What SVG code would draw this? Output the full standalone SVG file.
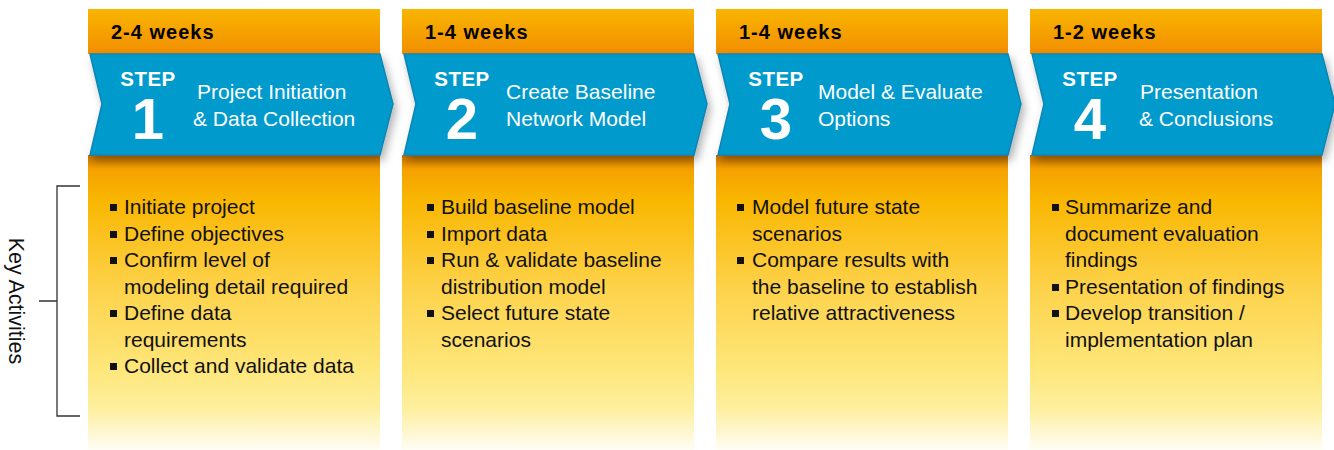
<svg xmlns="http://www.w3.org/2000/svg" width="1334" height="450" viewBox="0 0 1334 450">
  <defs>
    <linearGradient id="hdrGrad" x1="0" y1="0" x2="0" y2="1">
      <stop offset="0" stop-color="#f9b500"/>
      <stop offset="1" stop-color="#f28e00"/>
    </linearGradient>
    <linearGradient id="bodyGrad" x1="0" y1="155" x2="0" y2="450" gradientUnits="userSpaceOnUse">
      <stop offset="0" stop-color="#f39700"/>
      <stop offset="0.15" stop-color="#f9b600"/>
      <stop offset="0.45" stop-color="#fdd24a"/>
      <stop offset="0.72" stop-color="#fee679"/>
      <stop offset="0.86" stop-color="#feef9e"/>
      <stop offset="1" stop-color="#fffdf5"/>
    </linearGradient>
    <linearGradient id="bodyShade" x1="0" y1="0" x2="0" y2="1">
      <stop offset="0" stop-color="#9a5200" stop-opacity="0.55"/>
      <stop offset="1" stop-color="#9a5200" stop-opacity="0"/>
    </linearGradient>
    <filter id="chevShadow" x="-10%" y="-20%" width="125%" height="160%">
      <feDropShadow dx="3" dy="5" stdDeviation="4" flood-color="#000" flood-opacity="0.3"/>
    </filter>
    <!-- one step column, drawn at x=0 and moved into place -->
    <g id="column">
      <rect x="0" y="9" width="292" height="45" fill="url(#hdrGrad)"/>
      <rect x="0" y="155" width="292" height="295" fill="url(#bodyGrad)"/>
      <rect x="0" y="155" width="292" height="14" fill="url(#bodyShade)"/>
      <path d="M2 54 H292 L305 104 L292 155 H2 L14 104 Z" class="chev" filter="url(#chevShadow)"/>
    </g>
  </defs>
  <style>
    .chev { fill: #039acd; stroke: #0b85b4; stroke-width: 1.5; stroke-linejoin: miter; }
    .weeks { font-family: "Liberation Sans", Arial, sans-serif; font-weight: bold; font-size: 20px; letter-spacing: 1px; fill: #000; }
    .step { font-family: "Liberation Sans", Arial, sans-serif; font-weight: bold; font-size: 20.5px; letter-spacing: 0.5px; fill: #fff; text-anchor: middle; }
    .num { font-family: "Liberation Sans", Arial, sans-serif; font-weight: bold; font-size: 58px; fill: #fff; text-anchor: middle; }
    .title { font-family: "Liberation Sans", Arial, sans-serif; font-size: 21px; fill: #fff; }
    .item { font-family: "Liberation Sans", Arial, sans-serif; font-size: 21px; fill: #111; }
    .bullet { fill: #111; }
    .label { font-family: "Liberation Sans", Arial, sans-serif; font-size: 21.5px; fill: #111; text-anchor: middle; }
    .bracket { fill: none; stroke: #333; stroke-width: 1.3; }
  </style>

  <rect width="1334" height="450" fill="#fff"/>

  <!-- side label and bracket -->
  <g id="key-activities">
    <text class="label" transform="translate(9 301) rotate(90)">Key Activities</text>
    <path class="bracket" d="M80 186 H57 V416 H80 M57 301 H39"/>
  </g>

  <!-- step 1 -->
  <g id="step1">
    <use href="#column" x="88"/>
    <text class="weeks" x="111" y="39">2-4 weeks</text>
    <text class="step" x="148" y="86">STEP</text>
    <text class="num" x="148" y="139">1</text>
    <text class="title" x="197" y="99">Project Initiation</text>
    <text class="title" x="193" y="126">&amp; Data Collection</text>
    <g class="bullets">
      <rect class="bullet" x="110" y="204" width="7" height="7"/>
      <rect class="bullet" x="110" y="231" width="7" height="7"/>
      <rect class="bullet" x="110" y="257" width="7" height="7"/>
      <rect class="bullet" x="110" y="310" width="7" height="7"/>
      <rect class="bullet" x="110" y="363" width="7" height="7"/>
    </g>
    <text class="item" x="124" y="214">Initiate project</text>
    <text class="item" x="124" y="240.5">Define objectives</text>
    <text class="item" x="124" y="267">Confirm level of</text>
    <text class="item" x="124" y="293.5">modeling detail required</text>
    <text class="item" x="124" y="320">Define data</text>
    <text class="item" x="124" y="346.5">requirements</text>
    <text class="item" x="124" y="373">Collect and validate data</text>
  </g>

  <!-- step 2 -->
  <g id="step2">
    <use href="#column" x="402"/>
    <text class="weeks" x="425" y="39">1-4 weeks</text>
    <text class="step" x="462" y="86">STEP</text>
    <text class="num" x="462" y="139">2</text>
    <text class="title" x="506" y="99">Create Baseline</text>
    <text class="title" x="506" y="126">Network Model</text>
    <g class="bullets">
      <rect class="bullet" x="427" y="204" width="7" height="7"/>
      <rect class="bullet" x="427" y="231" width="7" height="7"/>
      <rect class="bullet" x="427" y="257" width="7" height="7"/>
      <rect class="bullet" x="427" y="310" width="7" height="7"/>
    </g>
    <text class="item" x="441" y="214">Build baseline model</text>
    <text class="item" x="441" y="240.5">Import data</text>
    <text class="item" x="441" y="267">Run &amp; validate baseline</text>
    <text class="item" x="441" y="293.5">distribution model</text>
    <text class="item" x="441" y="320">Select future state</text>
    <text class="item" x="441" y="346.5">scenarios</text>
  </g>

  <!-- step 3 -->
  <g id="step3">
    <use href="#column" x="716"/>
    <text class="weeks" x="739" y="39">1-4 weeks</text>
    <text class="step" x="776" y="86">STEP</text>
    <text class="num" x="776" y="139">3</text>
    <text class="title" x="818" y="99">Model &amp; Evaluate</text>
    <text class="title" x="818" y="126">Options</text>
    <g class="bullets">
      <rect class="bullet" x="737" y="204" width="7" height="7"/>
      <rect class="bullet" x="737" y="257" width="7" height="7"/>
    </g>
    <text class="item" x="752" y="214">Model future state</text>
    <text class="item" x="752" y="240.5">scenarios</text>
    <text class="item" x="752" y="267">Compare results with</text>
    <text class="item" x="752" y="293.5">the baseline to establish</text>
    <text class="item" x="752" y="320">relative attractiveness</text>
  </g>

  <!-- step 4 -->
  <g id="step4">
    <use href="#column" x="1030"/>
    <text class="weeks" x="1053" y="39">1-2 weeks</text>
    <text class="step" x="1090" y="86">STEP</text>
    <text class="num" x="1090" y="139">4</text>
    <text class="title" x="1140" y="99">Presentation</text>
    <text class="title" x="1139" y="126">&amp; Conclusions</text>
    <g class="bullets">
      <rect class="bullet" x="1052" y="204" width="7" height="7"/>
      <rect class="bullet" x="1052" y="284" width="7" height="7"/>
      <rect class="bullet" x="1052" y="310" width="7" height="7"/>
    </g>
    <text class="item" x="1065" y="214">Summarize and</text>
    <text class="item" x="1065" y="240.5">document evaluation</text>
    <text class="item" x="1065" y="267">findings</text>
    <text class="item" x="1065" y="293.5">Presentation of findings</text>
    <text class="item" x="1065" y="320">Develop transition /</text>
    <text class="item" x="1065" y="346.5">implementation plan</text>
  </g>
</svg>
